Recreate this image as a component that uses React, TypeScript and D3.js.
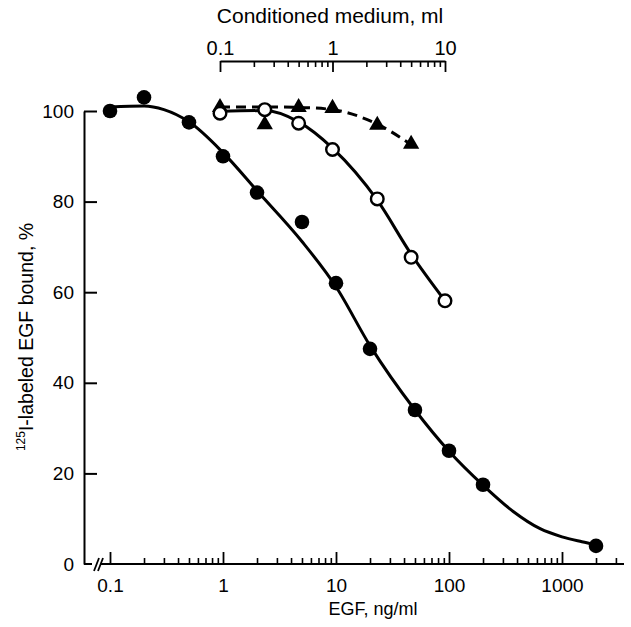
import React, {useEffect, useRef} from 'react';
import * as d3 from 'd3';

// EGF competition (filled circles), bottom axis ng/ml
const egfDose = [0.1, 0.2, 0.5, 1, 2, 5, 10, 20, 50, 100, 200, 2000];
const egfBound = [100, 103, 97.5, 90, 82, 75.5, 62, 47.5, 34, 25, 17.5, 4];
// fitted curve
const egfFitDose = [0.1, 0.2, 0.3, 0.5, 1, 2, 5, 10, 20, 50, 100, 200, 370, 640, 1000, 1500, 2000];
const egfFitBound = [100.9, 101.1, 100.3, 97.6, 90.8, 82.4, 71.2, 61.2, 48.2, 34, 24.9, 17.4, 11.6, 7.8, 6, 4.9, 4.2];

// conditioned medium (open circles), top axis ml
const mediumMl = [0.1, 0.25, 0.5, 1, 2.5, 5, 10];
const mediumBound = [99.5, 100.3, 97.3, 91.5, 80.6, 67.7, 58.1];
const mediumFit = [99.9, 100.1, 97.6, 91.8, 80.3, 68.4, 58.1];

// second medium (triangles, dashed)
const triMl = [0.1, 0.25, 0.5, 1, 2.5, 5];
const triBound = [100.8, 97, 100.8, 100.6, 96.9, 92.7];
const triFitBound = [100.9, 100.9, 100.8, 100.3, 97.1, 92.6];

const yTicks = [0, 20, 40, 60, 80, 100];
const egfMajor = [0.1, 1, 10, 100, 1000];
const egfMinor = [
  0.2, 0.3, 0.4, 0.5, 0.6, 0.7, 0.8, 0.9,
  2, 3, 4, 5, 6, 7, 8, 9,
  20, 30, 40, 50, 60, 70, 80, 90,
  200, 300, 400, 500, 600, 700, 800, 900,
  2000, 3000,
];
const mlMajor = [0.1, 1, 10];
const mlMinor = [0.2, 0.3, 0.4, 0.5, 0.6, 0.7, 0.8, 0.9, 2, 3, 4, 5, 6, 7, 8, 9];

const FONT = '"Liberation Sans", Arial, Helvetica, sans-serif';

const App = () => {
  const ref = useRef<SVGSVGElement>(null);

  useEffect(() => {
    const svg = d3.select(ref.current);
    svg.selectAll('*').remove();
    const g = svg.append('g').attr('font-family', FONT);

    const x = d3.scaleLog().domain([0.1, 1000]).range([110, 562]);
    const xMl = d3.scaleLog().domain([0.1, 10]).range([220, 445]);
    const y = d3.scaleLinear().domain([0, 100]).range([564, 111]);

    // Y axis
    const yAx = g
      .append('g')
      .attr('transform', 'translate(84,0)')
      .call(
        d3.axisLeft(y).tickValues(yTicks).tickSizeInner(-13).tickSizeOuter(0).tickPadding(10)
      );
    yAx.selectAll('.tick line').filter((d: any) => d === 0).remove();
    yAx.selectAll('.tick text').attr('font-size', 19).attr('font-family', FONT).attr('fill', '#000');
    yAx.selectAll('line, path').attr('stroke', '#000').attr('stroke-width', 2);

    // bottom axis with break
    const base = y(0);
    g.append('line').attr('x1', 84).attr('x2', 92).attr('y1', base).attr('y2', base)
      .attr('stroke', '#000').attr('stroke-width', 2);
    g.append('line').attr('x1', 101).attr('x2', 624).attr('y1', base).attr('y2', base)
      .attr('stroke', '#000').attr('stroke-width', 2);
    [0, 4].forEach(o => {
      g.append('line')
        .attr('x1', 94 + o).attr('y1', base + 7)
        .attr('x2', 99 + o).attr('y2', base - 6)
        .attr('stroke', '#000').attr('stroke-width', 1.8);
    });
    const xMaj = g
      .append('g')
      .attr('transform', `translate(0,${base})`)
      .call(d3.axisBottom(x).tickValues(egfMajor).tickFormat(d3.format('~g') as any).tickSizeInner(-12).tickSizeOuter(0).tickPadding(15));
    xMaj.select('.domain').remove();
    xMaj.selectAll('.tick text').attr('font-size', 19).attr('font-family', FONT).attr('fill', '#000');
    xMaj.selectAll('line').attr('stroke', '#000').attr('stroke-width', 1.8);
    const xMin = g
      .append('g')
      .attr('transform', `translate(0,${base})`)
      .call(d3.axisBottom(x).tickValues(egfMinor).tickFormat(() => '').tickSizeInner(-6).tickSizeOuter(0));
    xMin.select('.domain').remove();
    xMin.selectAll('line').attr('stroke', '#000').attr('stroke-width', 1.6);

    g.append('text')
      .attr('x', 373).attr('y', 615)
      .attr('text-anchor', 'middle')
      .attr('font-size', 18)
      .text('EGF, ng/ml');

    // top axis
    const tMaj = g
      .append('g')
      .attr('transform', 'translate(0,61)')
      .call(d3.axisTop(xMl).tickValues(mlMajor).tickFormat(d3.format('~g') as any).tickSizeInner(-11).tickSizeOuter(0).tickPadding(6));
    tMaj.selectAll('.tick text').attr('font-size', 20).attr('font-family', FONT).attr('fill', '#000');
    tMaj.selectAll('line, path').attr('stroke', '#000').attr('stroke-width', 1.8);
    const tMin = g
      .append('g')
      .attr('transform', 'translate(0,61)')
      .call(d3.axisTop(xMl).tickValues(mlMinor).tickFormat(() => '').tickSizeInner(-6).tickSizeOuter(0));
    tMin.select('.domain').remove();
    tMin.selectAll('line').attr('stroke', '#000').attr('stroke-width', 1.6);

    g.append('text')
      .attr('x', 330).attr('y', 23)
      .attr('text-anchor', 'middle')
      .attr('font-size', 21)
      .text('Conditioned medium, ml');

    // y label
    const yl = g
      .append('text')
      .attr('transform', 'translate(33,337) rotate(-90)')
      .attr('text-anchor', 'middle')
      .attr('font-size', 19.5);
    yl.append('tspan').attr('font-size', 12).attr('dy', -8).text('125');
    yl.append('tspan').attr('dy', 8).text('I-labeled EGF bound, %');

    const line = d3.line<[number, number]>().curve(d3.curveMonotoneX);

    // EGF curve + filled circles
    g.append('path')
      .attr('d', line(egfFitDose.map((d, i) => [x(d), y(egfFitBound[i])])))
      .attr('fill', 'none').attr('stroke', '#000').attr('stroke-width', 3);
    g.selectAll('.egf')
      .data(egfDose)
      .enter()
      .append('circle')
      .attr('cx', d => x(d))
      .attr('cy', (d, i) => y(egfBound[i]))
      .attr('r', 7.3)
      .attr('fill', '#000');

    // triangles, dashed
    g.append('path')
      .attr('d', line(triMl.map((d, i) => [xMl(d), y(triFitBound[i])])))
      .attr('fill', 'none').attr('stroke', '#000').attr('stroke-width', 3)
      .attr('stroke-dasharray', '10,6');
    const tri = d3.symbol().type(d3.symbolTriangle).size(115);
    g.selectAll('.tri')
      .data(triMl)
      .enter()
      .append('path')
      .attr('d', tri as any)
      .attr('transform', (d, i) => `translate(${xMl(d)},${y(triBound[i])})`)
      .attr('fill', '#000');

    // conditioned medium curve + open circles
    g.append('path')
      .attr('d', line(mediumMl.map((d, i) => [xMl(d), y(mediumFit[i])])))
      .attr('fill', 'none').attr('stroke', '#000').attr('stroke-width', 3);
    g.selectAll('.open')
      .data(mediumMl)
      .enter()
      .append('circle')
      .attr('cx', d => xMl(d))
      .attr('cy', (d, i) => y(mediumBound[i]))
      .attr('r', 6.3)
      .attr('fill', '#fff')
      .attr('stroke', '#000')
      .attr('stroke-width', 2.4);
  }, []);

  return (
    <div style={{position: 'absolute', left: 0, top: 0}}>
      <svg ref={ref} width={631} height={627} style={{display: 'block', background: '#fff'}} />
    </div>
  );
};

export default App;
